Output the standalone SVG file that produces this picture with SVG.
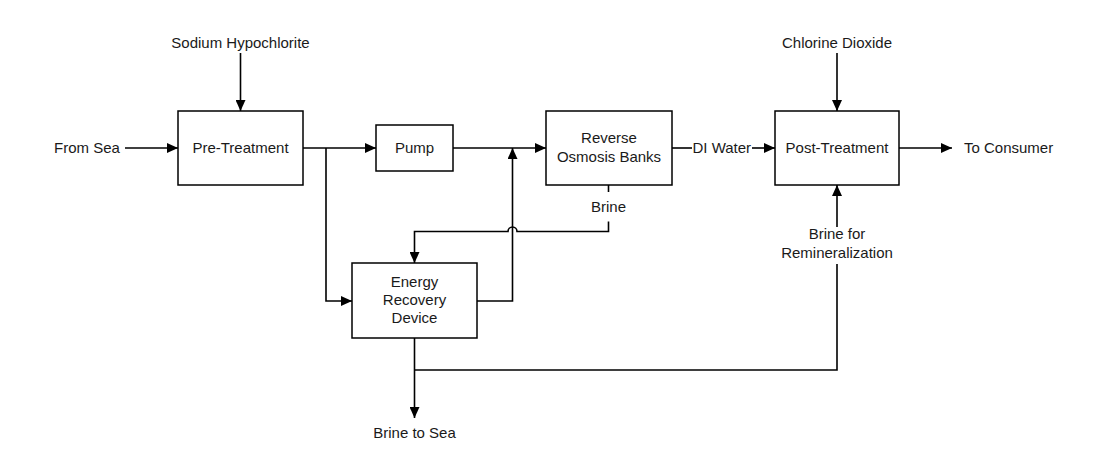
<svg xmlns="http://www.w3.org/2000/svg" width="1100" height="476" viewBox="0 0 1100 476">
<style>
.box{fill:#fff;stroke:#000;stroke-width:1.5}
.ln{fill:none;stroke:#000;stroke-width:1.6}
.arr{marker-end:url(#ah)}
text{font-family:"Liberation Sans",Arial,sans-serif;font-size:15px;fill:#1a1a1a}
.c{text-anchor:middle}
</style>
<defs>
<marker id="ah" markerUnits="userSpaceOnUse" markerWidth="12" markerHeight="10" refX="11" refY="5" orient="auto">
<path d="M0,0 L11,5 L0,10 Z" fill="#000"/>
</marker>
</defs>
<rect width="1100" height="476" fill="#fff"/>
<g id="connectors">
<path class="ln arr" d="M240.5,53 V111"/>
<path class="ln arr" d="M125,148 H178"/>
<path class="ln arr" d="M303,148 H376"/>
<path class="ln arr" d="M326,148 V301 H352"/>
<path class="ln arr" d="M453,148 H546"/>
<path class="ln arr" d="M477,301 H512.5 V148"/>
<path class="ln" d="M608.5,185 V192"/>
<path class="ln arr" d="M608.5,221.5 V231.5 H517 A4.5,4.5 0 0 0 508,231.5 H414.5 V263"/>
<path class="ln" d="M672,148 H692"/>
<path class="ln arr" d="M752,148 H775"/>
<path class="ln arr" d="M837,53 V111"/>
<path class="ln arr" d="M899,148 H952"/>
<path class="ln arr" d="M414.5,338 V418"/>
<path class="ln" d="M414.5,370 H837 V264"/>
<path class="ln arr" d="M837,227 V185"/>
</g>
<g id="sodium"><text class="c" x="240.5" y="48">Sodium Hypochlorite</text></g>
<g id="fromsea"><text x="54" y="153">From Sea</text></g>
<g id="pretreatment"><rect class="box" x="178" y="111" width="125" height="74"/><text class="c" x="240.5" y="153">Pre-Treatment</text></g>
<g id="pump"><rect class="box" x="376" y="125" width="77" height="46"/><text class="c" x="414.5" y="153">Pump</text></g>
<g id="ro"><rect class="box" x="546" y="111" width="126" height="74"/><text class="c" x="609" y="143">Reverse</text><text class="c" x="609" y="162">Osmosis Banks</text></g>
<g id="brine"><text class="c" x="608.5" y="212">Brine</text></g>
<g id="erd"><rect class="box" x="352" y="263" width="125" height="75"/><text class="c" x="414.5" y="287">Energy</text><text class="c" x="414.5" y="305">Recovery</text><text class="c" x="414.5" y="323">Device</text></g>
<g id="brinetosea"><text class="c" x="414.5" y="438">Brine to Sea</text></g>
<g id="diwater"><text x="692.5" y="153">DI Water</text></g>
<g id="chlorine"><text class="c" x="837" y="48">Chlorine Dioxide</text></g>
<g id="posttreatment"><rect class="box" x="775" y="111" width="124" height="74"/><text class="c" x="837" y="153">Post-Treatment</text></g>
<g id="consumer"><text x="964" y="153">To Consumer</text></g>
<g id="remin"><text class="c" x="837" y="239">Brine for</text><text class="c" x="837" y="258">Remineralization</text></g>
</svg>
